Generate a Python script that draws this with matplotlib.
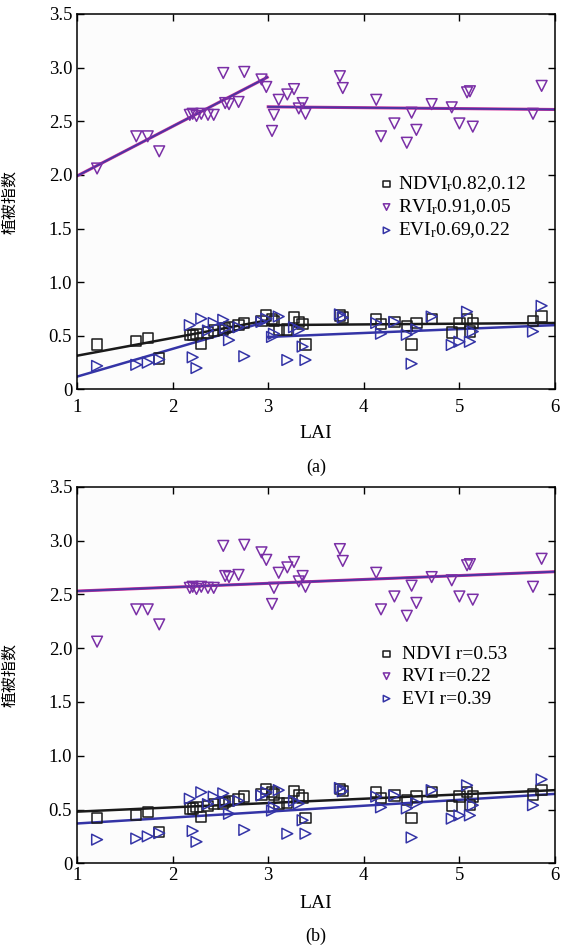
import numpy as np
import matplotlib
matplotlib.use('Agg')
from matplotlib import pyplot as plt

plt.rcParams['font.family'] = ['Liberation Serif', 'Noto Sans CJK SC']
plt.rcParams['mathtext.fontset'] = 'custom'
plt.rcParams['mathtext.rm'] = 'Liberation Serif'
plt.rcParams['mathtext.it'] = 'Liberation Serif:italic'

# samples: LAI and the three vegetation indices
lai = [1.21, 1.62, 1.74, 1.86, 2.18, 2.21, 2.25, 2.30, 2.37, 2.43,
       2.53, 2.55, 2.59, 2.69, 2.75, 2.93, 2.98, 3.04, 3.06, 3.11,
       3.20, 3.27, 3.32, 3.36, 3.39, 3.75, 3.78, 4.13, 4.18, 4.32,
       4.45, 4.50, 4.55, 4.71, 4.92, 5.00, 5.08, 5.11, 5.14, 5.77, 5.86]
rvi = [2.06, 2.36, 2.36, 2.22, 2.56, 2.57, 2.55, 2.57, 2.56, 2.56,
       2.95, 2.67, 2.66, 2.68, 2.96, 2.89, 2.82, 2.41, 2.56, 2.70,
       2.75, 2.80, 2.62, 2.67, 2.57, 2.92, 2.81, 2.70, 2.36, 2.48,
       2.30, 2.58, 2.42, 2.66, 2.63, 2.48, 2.77, 2.78, 2.45, 2.57, 2.83]
ndvi = [0.42, 0.45, 0.48, 0.29, 0.51, 0.51, 0.52, 0.43, 0.53, 0.55,
        0.555, 0.57, 0.58, 0.60, 0.62, 0.64, 0.69, 0.66, 0.64, 0.555,
        0.56, 0.67, 0.63, 0.61, 0.42, 0.69, 0.67, 0.66, 0.61, 0.63,
        0.59, 0.42, 0.62, 0.66, 0.53, 0.62, 0.66, 0.54, 0.62, 0.64, 0.68]
evi = [0.22, 0.23, 0.25, 0.28, 0.60, 0.30, 0.20, 0.66, 0.55, 0.62,
       0.65, 0.57, 0.46, 0.58, 0.31, 0.63, 0.66, 0.49, 0.52, 0.68,
       0.275, 0.58, 0.555, 0.40, 0.275, 0.70, 0.67, 0.62, 0.52, 0.63,
       0.51, 0.24, 0.56, 0.68, 0.415, 0.445, 0.725, 0.445, 0.54, 0.54, 0.78]

# fitted lines, (a) piecewise at LAI=3, (b) single linear fit
seg_a1_x = [1.0, 2.99]
seg_a2_x = [3.0, 6.0]
rvi_fit_a1 = [1.99, 2.91]
rvi_fit_a2 = [2.635, 2.61]
ndvi_fit_a1 = [0.315, 0.645]
ndvi_fit_a2 = [0.60, 0.62]
evi_fit_a1 = [0.12, 0.635]
evi_fit_a2 = [0.49, 0.60]

fit_b_x = [1.0, 6.0]
rvi_fit_b = [2.53, 2.71]
ndvi_fit_b = [0.48, 0.68]
evi_fit_b = [0.37, 0.645]

labels_a = [r'NDVI$_\mathregular{r}$0.82,0.12', r'RVI$_\mathregular{r}$0.91,0.05',
            r'EVI$_\mathregular{r}$0.69,0.22']
labels_b = ['NDVI r=0.53', 'RVI r=0.22', 'EVI r=0.39']

C_NDVI = '#1a1a1a'
C_RVI = '#7a2fa6'
C_RVI_LINE = '#4b35a3'
C_EVI = '#3434a6'

W, H = 568, 946
fig = plt.figure(figsize=(W / 100, H / 100), dpi=100)
ax_a = fig.add_axes([77 / W, 1 - 389.5 / H, 478 / W, 375.5 / H])
ax_b = fig.add_axes([77 / W, 1 - 863.3 / H, 478 / W, 376.6 / H])


def draw_points(ax):
    h1 = ax.scatter(lai, ndvi, marker='s', s=55, facecolors='none',
                    edgecolors=C_NDVI, linewidths=1.1, zorder=3)
    h2 = ax.scatter(lai, rvi, marker='v', s=60, facecolors='none',
                    edgecolors=C_RVI, linewidths=1.1, zorder=3)
    h3 = ax.scatter(lai, evi, marker='>', s=60, facecolors='none',
                    edgecolors=C_EVI, linewidths=1.1, zorder=3)
    return [h1, h2, h3]


def rvi_line(ax, x, y):
    ax.plot(x, y, color='#d0309a', lw=2.2, zorder=2)
    ax.plot(x, y, color=C_RVI_LINE, lw=1.4, zorder=2)


def style_axes(ax, xpad):
    ax.set_xlim(1, 6)
    ax.set_ylim(0, 3.5)
    ax.set_xticks(np.arange(1, 7))
    ax.set_yticks(np.arange(0, 3.51, 0.5))
    ax.set_yticklabels(['0'] + ['%.1f' % v for v in np.arange(0.5, 3.51, 0.5)])
    ax.tick_params(direction='in', top=True, right=True, length=5,
                   labelsize=13.5, width=1)
    ax.tick_params(axis='x', pad=xpad)
    ax.tick_params(axis='y', pad=3.5)
    ax.set_facecolor('#fcfcfc')
    for sp in ax.spines.values():
        sp.set_linewidth(1.1)
    ax.set_ylabel('植被指数', family=['Noto Sans CJK SC'], fontsize=11.5)
    ax.yaxis.set_label_coords(-0.123, 0.5)


# panel (a)
handles = draw_points(ax_a)
ax_a.plot(seg_a1_x, ndvi_fit_a1, color=C_NDVI, lw=1.8, zorder=2)
ax_a.plot(seg_a2_x, ndvi_fit_a2, color=C_NDVI, lw=1.8, zorder=2)
ax_a.plot(seg_a1_x, evi_fit_a1, color=C_EVI, lw=1.8, zorder=2)
ax_a.plot(seg_a2_x, evi_fit_a2, color=C_EVI, lw=1.8, zorder=2)
rvi_line(ax_a, seg_a1_x, rvi_fit_a1)
rvi_line(ax_a, seg_a2_x, rvi_fit_a2)
style_axes(ax_a, 7)
ax_a.legend(handles, labels_a, loc='upper left', bbox_to_anchor=(0.615, 0.60),
            frameon=False, fontsize=14, handlelength=0.6, handletextpad=0.3,
            labelspacing=0.18, borderpad=0, markerscale=0.6)

# panel (b)
handles = draw_points(ax_b)
ax_b.plot(fit_b_x, ndvi_fit_b, color=C_NDVI, lw=1.8, zorder=2)
ax_b.plot(fit_b_x, evi_fit_b, color=C_EVI, lw=1.8, zorder=2)
rvi_line(ax_b, fit_b_x, rvi_fit_b)
style_axes(ax_b, 3)
ax_b.legend(handles, labels_b, loc='upper left', bbox_to_anchor=(0.615, 0.605),
            frameon=False, fontsize=14, handlelength=0.6, handletextpad=0.5,
            labelspacing=0.25, borderpad=0, markerscale=0.6)

fig.text(316 / W, 1 - 434 / H, 'LAI', ha='center', va='center', fontsize=14)
fig.text(316 / W, 1 - 467 / H, '(a)', ha='center', va='center', fontsize=13)
fig.text(316 / W, 1 - 903 / H, 'LAI', ha='center', va='center', fontsize=14)
fig.text(316 / W, 1 - 936 / H, '(b)', ha='center', va='center', fontsize=13)

fig.savefig('out.png', dpi=100)
